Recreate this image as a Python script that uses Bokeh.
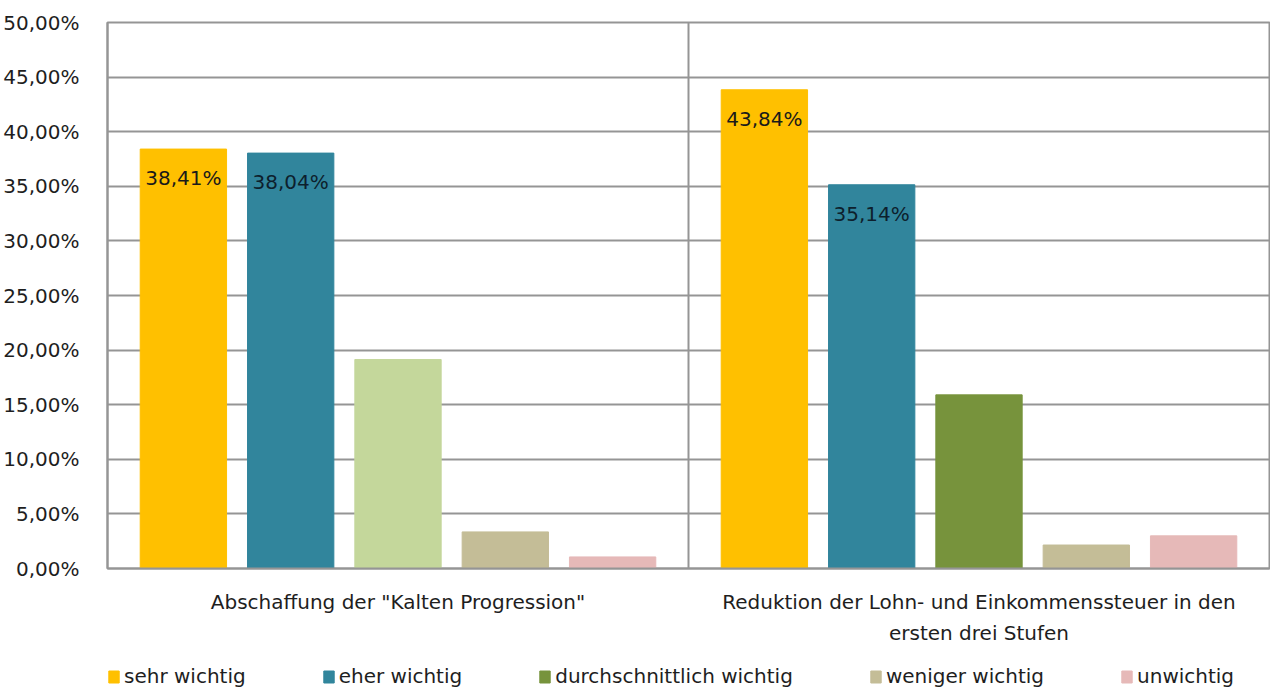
from bokeh.plotting import figure
from bokeh.layouts import column
from bokeh.models import (Range1d, FixedTicker, Legend, LegendItem,
                          ColumnDataSource)
from bokeh.core.properties import value
from bokeh.embed import file_html
from bokeh.resources import INLINE

# ---------------- data ----------------
categories = ['Abschaffung der "Kalten Progression"',
              "Reduktion der Lohn- und Einkommenssteuer in den\nersten drei Stufen"]
series = ["sehr wichtig", "eher wichtig", "durchschnittlich wichtig",
          "weniger wichtig", "unwichtig"]
sehr_wichtig = [38.41, 43.84]
eher_wichtig = [38.04, 35.14]
durchschnittlich_wichtig = [19.14, 15.90]
weniger_wichtig = [3.35, 2.15]
unwichtig = [1.06, 2.99]
y_ticks = [0, 5, 10, 15, 20, 25, 30, 35, 40, 45, 50]

# colours per series, one per category (first category's "durchschnittlich" bar is light green)
series_colors = [
    ["#FFC000", "#FFC000"],
    ["#31859C", "#31859C"],
    ["#C4D79B", "#77933C"],
    ["#C4BD97", "#C4BD97"],
    ["#E6B9B8", "#E6B9B8"],
]
label_colors = ["#1a1a1a", "#0d1f2d"]

values = [sehr_wichtig, eher_wichtig, durchschnittlich_wichtig,
          weniger_wichtig, unwichtig]

FONT = "DejaVu Sans"
FS = "20px"
TXT = "#1e1e1e"
GRID = "#959595"

p = figure(width=1270, height=655, output_backend="svg", toolbar_location=None,
           x_range=Range1d(0, len(categories)), y_range=Range1d(0, 50),
           min_border_left=103, min_border_right=1, min_border_top=22,
           min_border_bottom=87)
p.background_fill_color = "white"
p.border_fill_color = "white"
p.outline_line_color = GRID
p.outline_line_width = 2

# legend-only figure below the chart (no axes), borders matching the chart;
# its ranges keep the feeding glyphs far out of view
lf = figure(width=1270, height=34, output_backend="svg", toolbar_location=None,
            x_range=Range1d(100, 101), y_range=Range1d(100, 101),
            min_border_left=103, min_border_right=1, min_border_top=0,
            min_border_bottom=0,
            x_axis_location=None, y_axis_location=None)
lf.grid.visible = False
lf.outline_line_color = None
lf.background_fill_color = "white"
lf.border_fill_color = "white"

# bars
n = len(series)
step = 0.1847
bar_w = 0.1486
legend_renderers = []
for i, (name, vals) in enumerate(zip(series, values)):
    xs = [g + 0.5 + (i - (n - 1) / 2) * step for g in range(len(categories))]
    src = ColumnDataSource(dict(x=xs, top=vals, color=series_colors[i],
                                lbl=[f"{v:.2f}".replace(".", ",") + "%" for v in vals]))
    p.vbar(x="x", top="top", width=bar_w, source=src,
           fill_color="color", line_color="color", line_width=1)
    lr = lf.vbar(x="x", top="top", width=bar_w, source=src,
                 fill_color="color", line_color="color", line_width=1)
    legend_renderers.append(lr)
    if i < 2:
        p.text(x="x", y="top", text="lbl", source=src,
               text_font=value(FONT), text_font_size=FS,
               text_color=label_colors[i], text_align="center",
               text_baseline="middle", y_offset=29)

# axes
p.xaxis.ticker = FixedTicker(ticks=[g + 0.5 for g in range(len(categories))])
p.xaxis.major_label_overrides = {g + 0.5: c for g, c in enumerate(categories)}
p.xaxis.major_tick_line_color = None
p.xaxis.minor_tick_line_color = None
p.xaxis.axis_line_color = GRID
p.xaxis.axis_line_width = 2
p.xaxis.major_label_standoff = 15
p.xaxis.major_label_text_font = FONT
p.xaxis.major_label_text_font_size = FS
p.xaxis.major_label_text_color = TXT
p.xaxis.major_label_text_line_height = 1.3

p.yaxis.ticker = FixedTicker(ticks=y_ticks)
p.yaxis.major_label_overrides = {t: f"{t:.2f}".replace(".", ",") + "%" for t in y_ticks}
p.yaxis.major_tick_line_color = None
p.yaxis.minor_tick_line_color = None
p.yaxis.axis_line_color = GRID
p.yaxis.axis_line_width = 2
p.yaxis.major_label_standoff = 22
p.yaxis.major_label_text_font = FONT
p.yaxis.major_label_text_font_size = FS
p.yaxis.major_label_text_color = TXT

p.ygrid.grid_line_color = GRID
p.ygrid.grid_line_width = 2
p.xgrid.ticker = FixedTicker(ticks=list(range(1, len(categories))))
p.xgrid.grid_line_color = GRID
p.xgrid.grid_line_width = 2

# legend
items = [LegendItem(label=s, renderers=[r], index=1) for s, r in zip(series, legend_renderers)]
legend = Legend(items=items, orientation="horizontal", location=(0, 1),
                spacing=76, label_standoff=4, glyph_width=13, glyph_height=15,
                padding=0, margin=0, border_line_color=None,
                background_fill_alpha=0,
                label_text_font=FONT, label_text_font_size=FS,
                label_text_color=TXT, label_height=20)
lf.add_layout(legend, "center")

layout = column(p, lf, spacing=0)
open("out.html", "w").write(file_html(layout, INLINE))
